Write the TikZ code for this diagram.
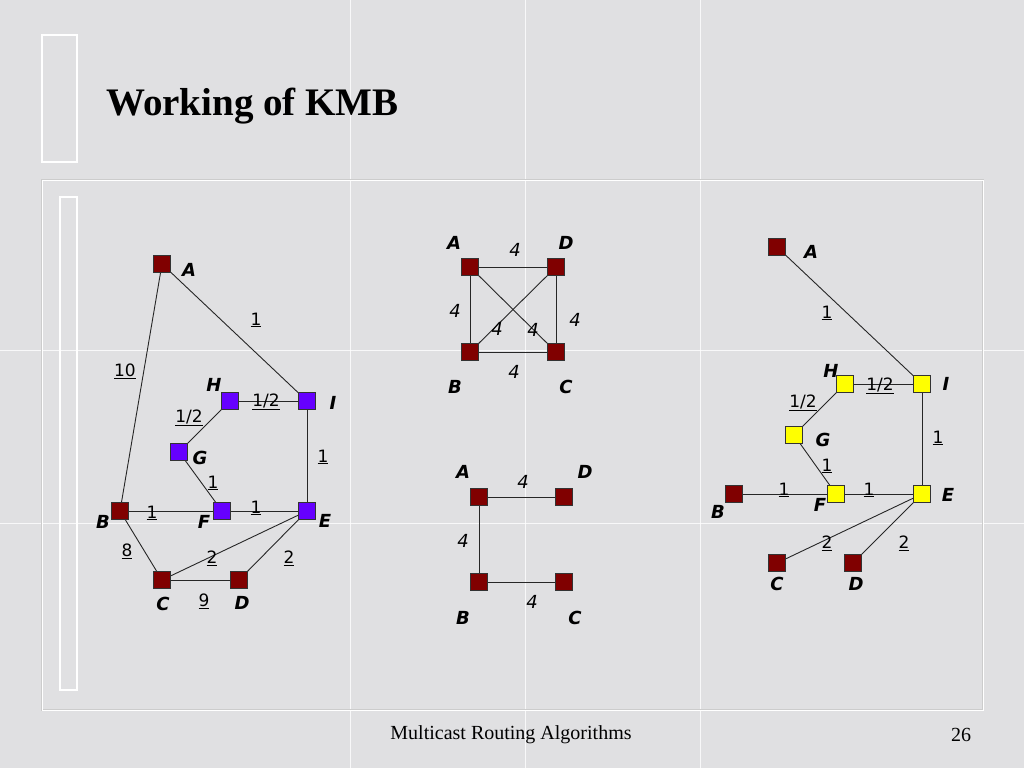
\documentclass[tikz,border=0pt]{standalone}
\usepackage{fontspec}
\setmainfont{Liberation Serif}
\newfontfamily\lblfont{DejaVu Sans}
\usetikzlibrary{backgrounds}
\pgfdeclarelayer{paper}
\pgfsetlayers{paper,background,main}
\definecolor{marble}{HTML}{E0E0E2}
\definecolor{dred}{HTML}{800000}
\definecolor{vio}{HTML}{6600FF}
\definecolor{yel}{HTML}{FFFF00}
\tikzset{
  sq/.style={draw=black!80, line width=0.6pt, minimum size=17.5pt, inner sep=0pt, fill=dred},
  vsq/.style={sq, fill=vio},
  ysq/.style={sq, fill=yel},
  nl/.style={font=\lblfont\bfseries\itshape\fontsize{18}{18}\selectfont, inner sep=0pt},
  wl/.style={font=\lblfont\fontsize{17}{17}\selectfont, inner sep=0pt},
  il/.style={font=\lblfont\itshape\fontsize{18}{18}\selectfont, inner sep=0pt},
  edge/.style={draw=black!85, line width=0.9pt},
  frame/.style={draw=white, line width=1.6pt},
  seam/.style={draw=white, line width=1pt, opacity=0.8}
}
\begin{document}
\begin{tikzpicture}[x=1pt,y=-1pt]
\useasboundingbox (0,0) rectangle (1024,768);
\begin{pgfonlayer}{paper}
\fill[marble] (0,0) rectangle (1024,768);
% tile seams
\draw[seam] (350,0) -- (350,768);
\draw[seam] (525,0) -- (525,768);
\draw[seam] (700,0) -- (700,768);
\draw[seam] (0,350) -- (1024,350);
\draw[seam] (0,523) -- (1024,523);
% frames
\draw[frame, draw=black!25, line width=2.6pt] (42,35) rectangle (77,162);
\draw[frame] (42,35) rectangle (77,162);
\draw[draw=black!20, line width=1.2pt] (42,180) rectangle (983,710);
\draw[draw=white, line width=0.6pt] (42,180) rectangle (983,710);
\draw[frame, draw=black!25, line width=2.6pt] (60,197) rectangle (77,690);
\draw[frame] (60,197) rectangle (77,690);
\end{pgfonlayer}
% title and footer
\node[anchor=base west, inner sep=0pt, font=\bfseries\fontsize{39}{39}\selectfont] (title) at (106,115) {Working of KMB};
\node[inner sep=0pt, font=\fontsize{20}{20}\selectfont] (foot) at (511,735) {Multicast Routing Algorithms};
\node[inner sep=0pt, font=\fontsize{20}{20}\selectfont] (page) at (961,735) {26};

% ---------------- left graph ----------------
\node[sq] (LA) at (162,264) {};
\node[vsq] (LI) at (307,401) {};
\node[vsq] (LH) at (230,401) {};
\node[vsq] (LG) at (179,452) {};
\node[vsq] (LF) at (222,511) {};
\node[vsq] (LE) at (307,511) {};
\node[sq] (LB) at (120,511) {};
\node[sq] (LC) at (162,580) {};
\node[sq] (LD) at (239,580) {};
\node[nl] (LAl) at (189,270) {A};
\node[nl] (LIl) at (333,403) {I};
\node[nl] (LHl) at (214,385) {H};
\node[nl] (LGl) at (200,458) {G};
\node[nl] (LFl) at (204,522) {F};
\node[nl] (LEl) at (325,521) {E};
\node[nl] (LBl) at (103,522) {B};
\node[nl] (LCl) at (163,604) {C};
\node[nl] (LDl) at (242,603) {D};
\begin{scope}[on background layer]
\draw[edge] (LA.center) -- (LB.center);
\draw[edge] (LA.center) -- (LI.center);
\draw[edge] (LH.center) -- (LI.center);
\draw[edge] (LH.center) -- (LG.center);
\draw[edge] (LG.center) -- (LF.center);
\draw[edge] (LI.center) -- (LE.center);
\draw[edge] (LB.center) -- (LF.center);
\draw[edge] (LF.center) -- (LE.center);
\draw[edge] (LB.center) -- (LC.center);
\draw[edge] (LC.center) -- (LE.center);
\draw[edge] (LD.center) -- (LE.center);
\draw[edge] (LC.center) -- (LD.center);
\end{scope}
\node[wl] at (125,371) {\underline{10}};
\node[wl] at (256,320) {\underline{1}};
\node[wl] at (266,402) {\underline{1/2}};
\node[wl] at (189,418) {\underline{1/2}};
\node[wl] at (213,483) {\underline{1}};
\node[wl] at (323,457) {\underline{1}};
\node[wl] at (152,513) {\underline{1}};
\node[wl] at (256,508) {\underline{1}};
\node[wl] at (127,551) {\underline{8}};
\node[wl] at (212,558) {\underline{2}};
\node[wl] at (289,558) {\underline{2}};
\node[wl] at (204,601) {\underline{9}};

% ---------------- middle top ----------------
\node[sq] (MA) at (470,267) {};
\node[sq] (MD) at (556,267) {};
\node[sq] (MB) at (470,352) {};
\node[sq] (MC) at (556,352) {};
\node[nl] at (454,243) {A};
\node[nl] at (566,243) {D};
\node[nl] at (455,387) {B};
\node[nl] at (566,387) {C};
\begin{scope}[on background layer]
\draw[edge] (MA.center) -- (MD.center);
\draw[edge] (MA.center) -- (MB.center);
\draw[edge] (MD.center) -- (MC.center);
\draw[edge] (MB.center) -- (MC.center);
\draw[edge] (MA.center) -- (MC.center);
\draw[edge] (MD.center) -- (MB.center);
\end{scope}
\node[il] at (515,250) {4};
\node[il] at (455,311) {4};
\node[il] at (575,320) {4};
\node[il] at (497,329) {4};
\node[il] at (533,330) {4};
\node[il] at (514,372) {4};

% ---------------- middle bottom ----------------
\node[sq] (NA) at (479,497) {};
\node[sq] (ND) at (564,497) {};
\node[sq] (NB) at (479,582) {};
\node[sq] (NC) at (564,582) {};
\node[nl] at (463,472) {A};
\node[nl] at (585,472) {D};
\node[nl] at (463,618) {B};
\node[nl] at (575,618) {C};
\begin{scope}[on background layer]
\draw[edge] (NA.center) -- (ND.center);
\draw[edge] (NA.center) -- (NB.center);
\draw[edge] (NB.center) -- (NC.center);
\end{scope}
\node[il] at (523,482) {4};
\node[il] at (463,541) {4};
\node[il] at (532,602) {4};

% ---------------- right graph ----------------
\node[sq] (RA) at (777,247) {};
\node[ysq] (RI) at (922,384) {};
\node[ysq] (RH) at (845,384) {};
\node[ysq] (RG) at (794,435) {};
\node[ysq] (RF) at (836,494) {};
\node[ysq] (RE) at (922,494) {};
\node[sq] (RB) at (734,494) {};
\node[sq] (RC) at (777,563) {};
\node[sq] (RD) at (853,563) {};
\node[nl] at (811,252) {A};
\node[nl] at (946,384) {I};
\node[nl] at (831,371) {H};
\node[nl] at (823,440) {G};
\node[nl] at (820,505) {F};
\node[nl] at (948,495) {E};
\node[nl] at (718,512) {B};
\node[nl] at (777,584) {C};
\node[nl] at (856,584) {D};
\begin{scope}[on background layer]
\draw[edge] (RA.center) -- (RI.center);
\draw[edge] (RH.center) -- (RI.center);
\draw[edge] (RH.center) -- (RG.center);
\draw[edge] (RG.center) -- (RF.center);
\draw[edge] (RI.center) -- (RE.center);
\draw[edge] (RB.center) -- (RF.center);
\draw[edge] (RF.center) -- (RE.center);
\draw[edge] (RE.center) -- (RC.center);
\draw[edge] (RE.center) -- (RD.center);
\end{scope}
\node[wl] at (827,313) {\underline{1}};
\node[wl] at (880,386) {\underline{1/2}};
\node[wl] at (803,403) {\underline{1/2}};
\node[wl] at (827,466) {\underline{1}};
\node[wl] at (938,438) {\underline{1}};
\node[wl] at (784,490) {\underline{1}};
\node[wl] at (869,490) {\underline{1}};
\node[wl] at (827,543) {\underline{2}};
\node[wl] at (904,543) {\underline{2}};
\end{tikzpicture}
\end{document}
